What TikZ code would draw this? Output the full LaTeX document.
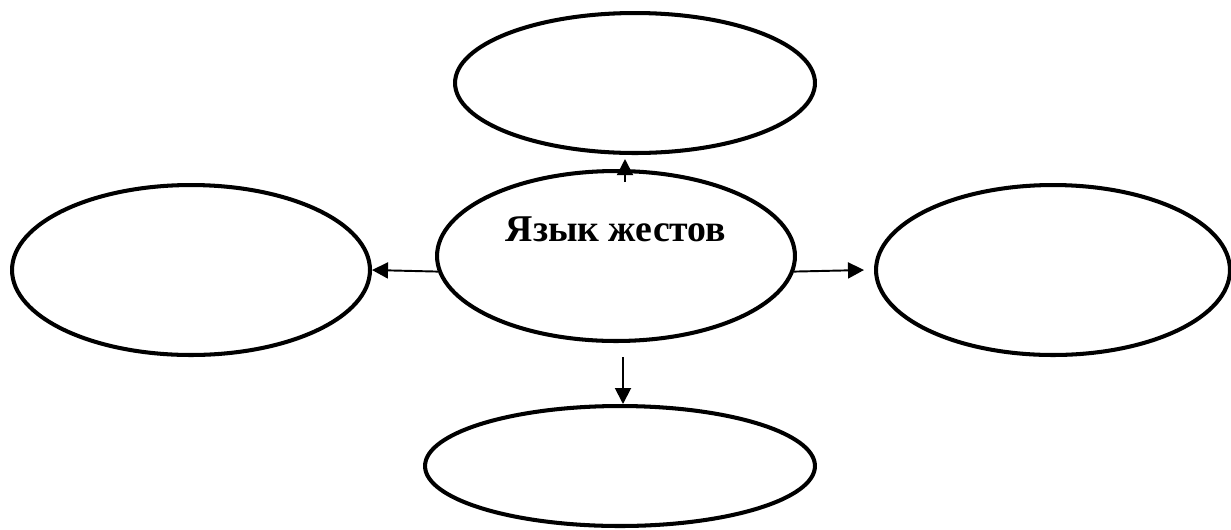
\documentclass[tikz,border=0pt]{standalone}
\usepackage{fontspec}
\setmainfont{Liberation Serif}
\usetikzlibrary{shapes.geometric,arrows.meta}
\begin{document}
\begin{tikzpicture}[x=0.02cm,y=-0.02cm,
  bubble/.style={ellipse,draw,line width=2.3pt,inner sep=0pt},
  arr/.style={line width=1.1pt,-{Triangle[length=0.32cm,width=0.32cm]}}]
  \useasboundingbox (0,0) rectangle (1231,529);
  \node[bubble,minimum width=7.16cm,minimum height=3.4cm,
        font=\bfseries\fontsize{21.5}{25}\selectfont,
        text height=0.5cm,text depth=1.1cm] (lang) at (616,256) {Язык жестов};
  \node[bubble,minimum width=7.2cm,minimum height=2.8cm] (top) at (635,83) {};
  \node[bubble,minimum width=7.16cm,minimum height=3.4cm] (left) at (191,270) {};
  \node[bubble,minimum width=7.08cm,minimum height=3.4cm] (right) at (1053,270) {};
  \node[bubble,minimum width=7.8cm,minimum height=2.4cm] (bot) at (620,466) {};
  % arrows out of the centre
  \draw[arr] ([shift={(9,13)}]lang.north) -- ([shift={(-10,4)}]top.south);
  \draw[arr] (lang.185) -- (left.east);
  \draw[arr] (lang.-5) -- ([shift={(-10,0)}]right.west);
  \draw[arr] ([shift={(7,14)}]lang.south) -- ([shift={(3,0)}]bot.north);
\end{tikzpicture}
\end{document}
